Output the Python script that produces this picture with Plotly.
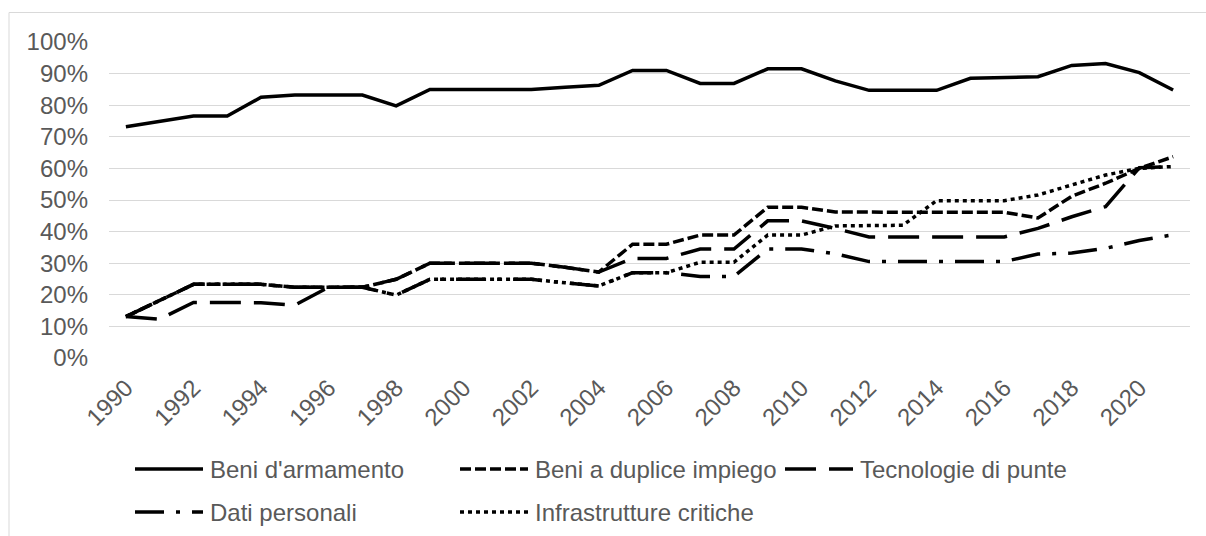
import plotly.graph_objects as go

years = list(range(1990, 2022))

beni_armamento = [73.2, 75.0, 76.6, 76.6, 82.5, 83.2, 83.2, 83.2, 79.8, 85.0, 85.0, 85.0,
                  85.0, 85.7, 86.3, 91.0, 91.0, 86.9, 86.9, 91.5, 91.5, 87.7, 84.7, 84.7,
                  84.7, 88.5, 88.7, 89.0, 92.6, 93.2, 90.3, 84.8]
beni_duplice = [13.1, 18.2, 23.3, 23.3, 23.3, 22.4, 22.4, 22.4, 24.9, 30.0, 30.0, 30.0,
                30.0, 28.7, 27.2, 36.0, 36.0, 38.9, 38.9, 47.7, 47.7, 46.2, 46.1, 46.1,
                46.1, 46.1, 46.1, 44.3, 51.2, 55.3, 60.0, 63.7]
tecnologie = [13.1, 12.3, 17.6, 17.5, 17.5, 16.7, 22.4, 22.4, 24.9, 30.0, 30.0, 30.0,
              30.0, 28.7, 27.2, 31.5, 31.5, 34.5, 34.5, 43.4, 43.4, 41.0, 38.3, 38.3,
              38.3, 38.3, 38.3, 41.0, 44.7, 47.9, 60.2, 60.6]
dati_personali = [13.1, 18.2, 23.3, 23.3, 23.3, 22.4, 22.4, 22.4, 19.9, 24.9, 24.9, 24.9,
                  24.9, 23.8, 22.8, 27.0, 27.0, 25.8, 25.8, 34.5, 34.5, 33.0, 30.5, 30.5,
                  30.5, 30.5, 30.5, 32.9, 33.2, 34.7, 37.2, 39.0]
infrastrutture = [13.1, 18.2, 23.3, 23.3, 23.3, 22.4, 22.4, 22.4, 19.9, 24.9, 24.9, 24.9,
                  24.9, 23.8, 22.8, 27.0, 27.0, 30.3, 30.3, 38.9, 38.9, 41.8, 42.0, 42.0,
                  49.8, 49.8, 49.8, 51.6, 54.7, 57.9, 60.0, 60.6]

series_names = ["Beni d'armamento", "Beni a duplice impiego", "Tecnologie di punte",
                "Dati personali", "Infrastrutture critiche"]
series_values = [beni_armamento, beni_duplice, tecnologie, dati_personali, infrastrutture]
series_dash = ["solid", "11px,4px", "31px,13px", "29px,12px,4px,12px", "4px,4px"]

FONT = "Liberation Sans, Arial, sans-serif"
TXT = "#595959"
FS = 24
LW = 3.5

W, H = 1206, 536
ML, MR, MT, MB = 109, 16, 42, 178
PW = W - ML - MR
PH = H - MT - MB

def px_x(x):
    return (x - ML) / PW

def px_y(y):
    return (H - MB - y) / PH

fig = go.Figure()
for name, vals, dash in zip(series_names, series_values, series_dash):
    fig.add_trace(go.Scatter(
        x=years, y=[v / 100 for v in vals], mode="lines", name=name,
        line=dict(color="#000000", width=LW, dash=dash),
        showlegend=False, hoverinfo="skip"))

shapes = []
annotations = []
# outer chart border
shapes.append(dict(type="rect", xref="paper", yref="paper",
                   x0=px_x(9), x1=px_x(1215), y0=px_y(545), y1=px_y(12.5),
                   line=dict(color="#d9d9d9", width=1), fillcolor="rgba(0,0,0,0)", layer="below"))

legend_pos = [  # (sample x0, sample x1, row y) -- equal-width legend columns
    (135, 203, 469),
    (460, 528, 469),
    (785, 853, 469),
    (135, 203, 512),
    (460, 528, 512),
]
for (x0, x1, yy), name, dash in zip(legend_pos, series_names, series_dash):
    shapes.append(dict(type="line", xref="paper", yref="paper",
                       x0=px_x(x0), x1=px_x(x1), y0=px_y(yy), y1=px_y(yy),
                       line=dict(color="#000000", width=LW, dash=dash)))
    annotations.append(dict(text=name, xref="paper", yref="paper",
                            x=px_x(x1 + 5), y=px_y(yy), xanchor="left", yanchor="middle",
                            showarrow=False,
                            font=dict(family=FONT, size=FS, color=TXT)))

fig.update_layout(
    width=W, height=H,
    margin=dict(l=ML, r=MR, t=MT, b=MB),
    paper_bgcolor="white", plot_bgcolor="white",
    font=dict(family=FONT, size=FS, color=TXT),
    shapes=shapes, annotations=annotations,
    showlegend=False,
)
fig.update_xaxes(range=[1989.5, 2021.5], tickmode="array", tickvals=years[::2],
                 ticktext=[str(y) for y in years[::2]], tickangle=-45,
                 showgrid=False, zeroline=False, showline=False, ticks="",
                 ticklabelstandoff=10,
                 tickfont=dict(family=FONT, size=FS, color=TXT))
fig.update_yaxes(range=[0, 1], tickmode="linear", tick0=0, dtick=0.1, tickformat=".0%",
                 showgrid=True, gridcolor="#d9d9d9", gridwidth=1, zeroline=False,
                 showline=False, ticks="", ticklabelstandoff=20,
                 tickfont=dict(family=FONT, size=FS, color=TXT))

fig.write_html("out.html", config={"displayModeBar": False, "staticPlot": True},
               post_script="document.body.style.margin='0px';")
